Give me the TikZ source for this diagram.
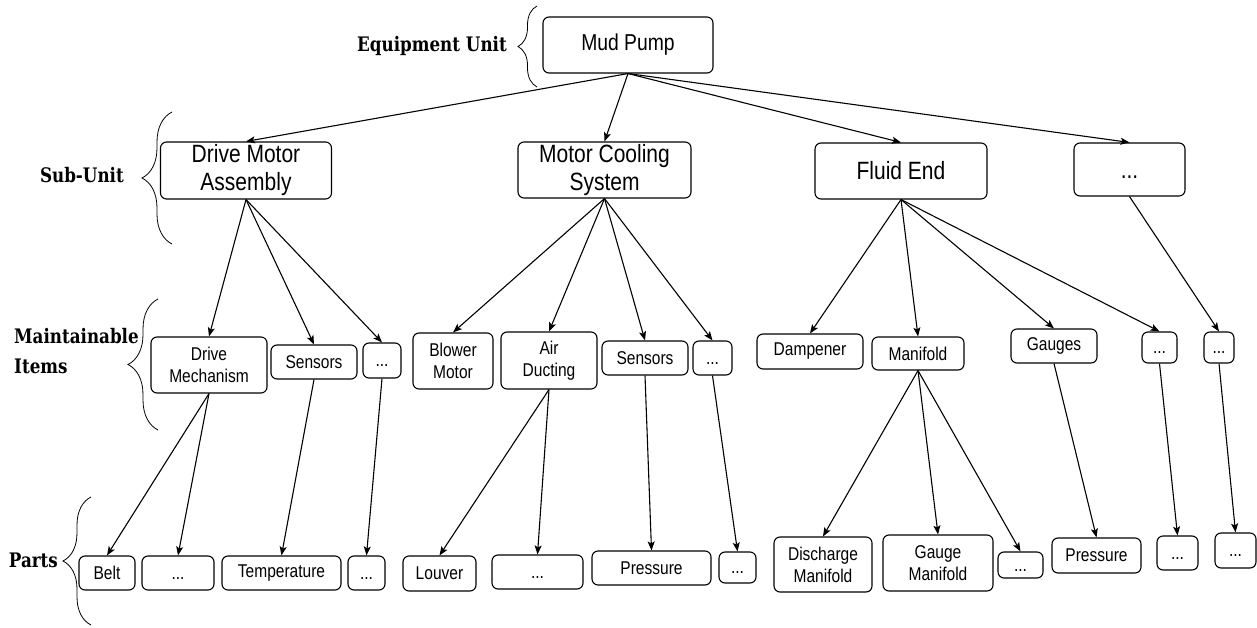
\documentclass[tikz,border=0pt]{standalone}
\usepackage{fontspec}
\usetikzlibrary{arrows.meta,decorations.pathreplacing}
\newfontfamily\boxfont{Liberation Sans}[FakeStretch=0.84]
\newfontfamily\levelfont{DejaVu Serif Condensed}[FakeStretch=0.93]
% an ellipsis that sits on the same baseline as capital-letter labels
\newcommand\moredots{\vphantom{S}...}
\begin{document}
\begin{tikzpicture}[x=1pt,y=-1pt,
  box/.style={draw, rounded corners=6pt, line width=1.1pt, align=center, inner sep=0pt},
  topbox/.style={box, font=\boxfont\fontsize{23}{27}\selectfont},
  subbox/.style={box, font=\boxfont\fontsize{25}{28}\selectfont},
  itembox/.style={box, font=\boxfont\fontsize{18.5}{22}\selectfont},
  sz/.style 2 args={minimum width=#1pt, minimum height=#2pt},
  link/.style={line width=1.1pt, -{Stealth[length=9pt,width=7pt,inset=2pt]}},
  lab/.style={font=\levelfont\bfseries\fontsize{20}{30}\selectfont, inner sep=0pt},
  lbrace/.style={decorate, line width=0.8pt, decoration={brace, amplitude=#1pt}}
]
\useasboundingbox (0,0) rectangle (1257,628);

% level names and their braces
\node[lab, anchor=base east] (lEU) at (507,52) {Equipment Unit};
\node[lab, anchor=base east] (lSU) at (124,183) {Sub-Unit};
\node[lab, anchor=west, align=left] (lMI) at (14,351) {Maintainable\\Items};
\node[lab, anchor=base east] (lPA) at (58,567) {Parts};
\draw[lbrace=19] (537,87) -- (537,6);
\draw[lbrace=30] (172,244) -- (172,112);
\draw[lbrace=30] (158,430) -- (158,299);
\draw[lbrace=28] (91,625) -- (91,497);

% equipment unit
\node[topbox, sz={170}{56}] (mud) at (628,45) {Mud Pump};

% sub-units
\node[subbox, sz={171}{57}] (dma) at (246,170.5) {Drive Motor\\Assembly};
\node[subbox, sz={173}{56}] (mcs) at (604.5,170) {Motor Cooling\\System};
\node[subbox, sz={172}{56}] (fe)  at (901,171) {Fluid End};
\node[subbox, sz={111}{53}] (sx)  at (1129.5,169.5) {\moredots};

% maintainable items
\node[itembox, sz={116}{56}] (dm)   at (209,365) {Drive\\Mechanism};
\node[itembox, sz={86}{34}]  (sen1) at (314,362) {Sensors};
\node[itembox, sz={38}{35}]  (d1)   at (382,360.5) {\moredots};
\node[itembox, sz={80}{56}]  (bm)   at (453,361) {Blower\\Motor};
\node[itembox, sz={96}{57}]  (ad)   at (549,360.5) {Air\\Ducting};
\node[itembox, sz={86}{34}]  (sen2) at (645,358) {Sensors};
\node[itembox, sz={39}{34}]  (d2)   at (712.5,358) {\moredots};
\node[itembox, sz={106}{35}] (dam)  at (810,351.5) {Dampener};
\node[itembox, sz={92}{33}]  (man)  at (918,353.5) {Manifold};
\node[itembox, sz={86}{34}]  (gau)  at (1054,346) {Gauges};
\node[itembox, sz={35}{31}]  (d3)   at (1159.5,347.5) {\moredots};
\node[itembox, sz={30}{31}]  (d4)   at (1219,347.5) {\moredots};

% parts
\node[itembox, sz={56}{34}]  (belt)  at (107,573) {Belt};
\node[itembox, sz={72}{34}]  (p1)    at (178,573) {\moredots};
\node[itembox, sz={119}{34}] (temp)  at (281.5,573) {Temperature};
\node[itembox, sz={37}{34}]  (p2)    at (366.5,573) {\moredots};
\node[itembox, sz={73}{35}]  (louv)  at (439.5,573.5) {Louver};
\node[itembox, sz={91}{34}]  (p3)    at (537.5,572) {\moredots};
\node[itembox, sz={119}{34}] (pres1) at (651.5,568) {Pressure};
\node[itembox, sz={37}{31}]  (p4)    at (737.5,567.5) {\moredots};
\node[itembox, sz={98}{55}]  (dman)  at (823,564.5) {Discharge\\Manifold};
\node[itembox, sz={110}{56}] (gman)  at (938,563) {Gauge\\Manifold};
\node[itembox, sz={45}{26}]  (p5)    at (1020.5,565) {\moredots};
\node[itembox, sz={89}{35}]  (pres2) at (1096.5,555.5) {Pressure};
\node[itembox, sz={41}{34}]  (p6)    at (1177.5,553) {\moredots};
\node[itembox, sz={41}{35}]  (p7)    at (1235.5,550.5) {\moredots};

% links: equipment unit to sub-units
\foreach \c in {dma,mcs,fe,sx} \draw[link] (mud.south) -- (\c.north);
% sub-units to maintainable items
\foreach \c in {dm,sen1,d1} \draw[link] (dma.south) -- (\c.north);
\foreach \c in {bm,ad,sen2,d2} \draw[link] (mcs.south) -- (\c.north);
\foreach \c in {dam,man,gau,d3} \draw[link] (fe.south) -- (\c.north);
\draw[link] (sx.south) -- (d4.north);
% maintainable items to parts
\draw[link] (dm.south) -- (belt.north);
\draw[link] (dm.south) -- (p1.north);
\draw[link] (sen1.south) -- (temp.north);
\draw[link] (d1.south) -- (p2.north);
\draw[link] (ad.south) -- (louv.north);
\draw[link] (ad.south) -- (p3.north);
\draw[link] (sen2.south) -- (pres1.north);
\draw[link] (d2.south) -- (p4.north);
\foreach \c in {dman,gman,p5} \draw[link] (man.south) -- (\c.north);
\draw[link] (gau.south) -- (pres2.north);
\draw[link] (d3.south) -- (p6.north);
\draw[link] (d4.south) -- (p7.north);
\end{tikzpicture}
\end{document}
